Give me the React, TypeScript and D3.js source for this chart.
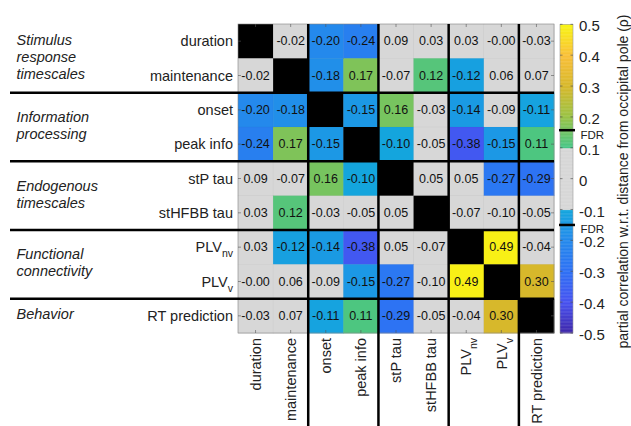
import React from "react";
import * as d3 from "d3";

const variables = ["duration", "maintenance", "onset", "peak info", "stP tau", "stHFBB tau", "PLV_nv", "PLV_v", "RT prediction"];

// symmetric partial-correlation matrix (null on the diagonal)
const row0 = [null, -0.02, -0.20, -0.24, 0.09, 0.03, 0.03, -0.004, -0.03];
const row1 = [-0.02, null, -0.18, 0.17, -0.07, 0.12, -0.12, 0.06, 0.07];
const row2 = [-0.20, -0.18, null, -0.15, 0.16, -0.03, -0.14, -0.09, -0.11];
const row3 = [-0.24, 0.17, -0.15, null, -0.102, -0.05, -0.38, -0.15, 0.11];
const row4 = [0.09, -0.07, 0.16, -0.102, null, 0.05, 0.05, -0.27, -0.29];
const row5 = [0.03, 0.12, -0.03, -0.05, 0.05, null, -0.07, -0.096, -0.05];
const row6 = [0.03, -0.12, -0.14, -0.38, 0.05, -0.07, null, 0.49, -0.04];
const row7 = [-0.004, 0.06, -0.09, -0.15, -0.27, -0.096, 0.49, null, 0.30];
const row8 = [-0.03, 0.07, -0.11, 0.11, -0.29, -0.05, -0.04, 0.30, null];
const matrix: (number | null)[][] = [row0, row1, row2, row3, row4, row5, row6, row7, row8];

const groupNames = [["Stimulus", "response", "timescales"], ["Information", "processing"], ["Endogenous", "timescales"], ["Functional", "connectivity"], ["Behavior"]];
const groupRows = [[0, 1], [2, 3], [4, 5], [6, 7], [8, 8]];
const separatorsAfter = [1, 3, 5, 7];

const colorbarTicks = [0.5, 0.4, 0.3, 0.2, 0.1, 0, -0.1, -0.2, -0.3, -0.4, -0.5];
const grayLimit = 0.1;
const fdrPos = 0.157;
const fdrNeg = -0.15;
const colorbarTitle = "partial correlation w.r.t. distance from occipital pole (\u03c1)";

// parula-like colour stops
const stopValues = [-0.5, -0.4, -0.3, -0.2, -0.1, 0, 0.1, 0.2, 0.3, 0.4, 0.5];
const stopColors = ["#3e26a8", "#4752f0", "#2e70f4", "#2489ec", "#14a6dd", "#22b8b4", "#45c687", "#98c245", "#d7b82b", "#f9bf38", "#f8f512"];

const W = 631, H = 426;
const FONT = "'Liberation Sans', Arial, Helvetica, sans-serif";
const GRAY = "#d7d7d7";

const color = d3.scaleLinear<string>().domain(stopValues).range(stopColors).interpolate(d3.interpolateRgb).clamp(true);
const cellColor = (v: number | null) => (v === null ? "#000" : Math.abs(v) < grayLimit ? GRAY : color(v));

function Label({ name, subSize }: { name: string; subSize: number }) {
  const [main, sub] = name.split("_");
  return (
    <>
      {main}
      {sub ? (
        <tspan fontSize={subSize} dy={6}>{sub}</tspan>
      ) : null}
    </>
  );
}

export default function App() {
  const idx = variables.map((_, i) => i);
  const x = d3.scaleBand<number>().domain(idx).range([238, 554]);
  const y = d3.scaleBand<number>().domain(idx).range([24, 333]);
  const cb = d3.scaleLinear().domain([0.5, -0.5]).range([24.3, 333]);
  const cbX = 560, cbW = 13;
  const steps = d3.range(-0.5, 0.5, 0.0025);

  const fmtTick = (v: number) => (v === 0 ? "0" : v.toFixed(1));

  return (
    <svg width={W} height={H} style={{ position: "fixed", left: 0, top: 0, background: "#fff" }} fontFamily={FONT}>
      <rect x={0} y={0} width={W} height={H} fill="#fff" />
      {/* cells */}
      {matrix.map((row, r) =>
        row.map((v, c) => (
          <g key={`${r}-${c}`}>
            <rect x={x(c)!} y={y(r)!} width={x.bandwidth() + 0.4} height={y.bandwidth() + 0.4} fill={cellColor(v)} stroke={v === null ? "none" : "rgba(0,0,0,0.06)"} strokeWidth={0.5} />
            {v !== null && (
              <text x={x(c)! + x.bandwidth() / 2} y={y(r)! + y.bandwidth() / 2} textAnchor="middle" dominantBaseline="central" fontSize={12.5} fill="#111">
                {v.toFixed(2)}
              </text>
            )}
          </g>
        ))
      )}
      {/* box */}
      <rect x={238} y={24} width={316} height={309} fill="none" stroke="#888" strokeWidth={0.6} />
      {/* ticks */}
      {idx.map((i) => (
        <g key={`t${i}`} stroke="#555" strokeWidth={0.6}>
          <line x1={238} x2={241} y1={y(i)! + y.bandwidth() / 2} y2={y(i)! + y.bandwidth() / 2} />
          <line x1={551} x2={554} y1={y(i)! + y.bandwidth() / 2} y2={y(i)! + y.bandwidth() / 2} />
          <line y1={24} y2={27} x1={x(i)! + x.bandwidth() / 2} x2={x(i)! + x.bandwidth() / 2} />
          <line y1={330} y2={333} x1={x(i)! + x.bandwidth() / 2} x2={x(i)! + x.bandwidth() / 2} />
        </g>
      ))}
      {/* separators */}
      {separatorsAfter.map((s) => (
        <g key={`s${s}`} stroke="#000" strokeWidth={2.5}>
          <line x1={10} x2={554} y1={y(s)! + y.bandwidth()} y2={y(s)! + y.bandwidth()} />
          <line y1={24} y2={H} x1={x(s)! + x.bandwidth()} x2={x(s)! + x.bandwidth()} />
        </g>
      ))}
      {/* row labels */}
      {variables.map((name, i) => (
        <text key={`rl${i}`} x={233} y={y(i)! + y.bandwidth() / 2} dominantBaseline="central" textAnchor="end" fontSize={14.5} fill="#222">
          {name.includes("_") ? (
            <>
              <tspan>{name.split("_")[0]}</tspan>
              <tspan fontSize={10.5} dy={6}>{name.split("_")[1]}</tspan>
            </>
          ) : (
            name
          )}
        </text>
      ))}
      {/* column labels */}
      {variables.map((name, i) => (
        <text key={`cl${i}`} transform={`translate(${x(i)! + x.bandwidth() / 2},338) rotate(-90)`} textAnchor="end" dy="0.36em" fontSize={14.5} fill="#222">
          <Label name={name} subSize={10.5} />
        </text>
      ))}
      {/* group labels */}
      {groupNames.map((lines, g) => {
        const top = y(groupRows[g][0])!;
        const bottom = y(groupRows[g][1])! + y.bandwidth();
        const cy = (top + bottom) / 2 - 1.5;
        const lh = 17;
        return (
          <text key={`g${g}`} x={16.5} fontSize={14.5} fontStyle="italic" fill="#222">
            {lines.map((ln, k) => (
              <tspan key={k} x={16.5} y={cy + (k - (lines.length - 1) / 2) * lh} dominantBaseline="central">
                {ln}
              </tspan>
            ))}
          </text>
        );
      })}
      {/* colorbar */}
      {steps.map((v, k) => (
        <rect key={`cb${k}`} x={cbX} y={cb(v + 0.0025)} width={cbW} height={cb(v) - cb(v + 0.0025) + 0.4} fill={Math.abs(v + 0.00125) < grayLimit ? GRAY : color(v + 0.00125)} />
      ))}
      <rect x={cbX} y={cb(0.5)} width={cbW} height={cb(-0.5) - cb(0.5)} fill="none" stroke="#999" strokeWidth={0.6} />
      {colorbarTicks.map((t) => (
        <g key={`ct${t}`}>
          <line x1={cbX} x2={cbX + 2.5} y1={cb(t)} y2={cb(t)} stroke="#444" strokeWidth={0.6} />
          <line x1={cbX + cbW - 2.5} x2={cbX + cbW} y1={cb(t)} y2={cb(t)} stroke="#444" strokeWidth={0.6} />
          <text x={579} y={cb(t) + 1.5} dominantBaseline="central" fontSize={15} fill="#222">
            {fmtTick(t)}
          </text>
        </g>
      ))}
      {[fdrPos, fdrNeg].map((f, k) => (
        <g key={`fdr${k}`}>
          <line x1={cbX - 1} x2={cbX + cbW + 2} y1={cb(f)} y2={cb(f)} stroke="#000" strokeWidth={2.5} />
          <text x={580.5} y={cb(f) + (k === 0 ? 9 : 8.5)} fontSize={11.5} fill="#222">FDR</text>
        </g>
      ))}
      <text transform={`translate(623,181.5) rotate(-90)`} textAnchor="middle" dominantBaseline="central" fontSize={14} fill="#222">
        {colorbarTitle}
      </text>
    </svg>
  );
}
